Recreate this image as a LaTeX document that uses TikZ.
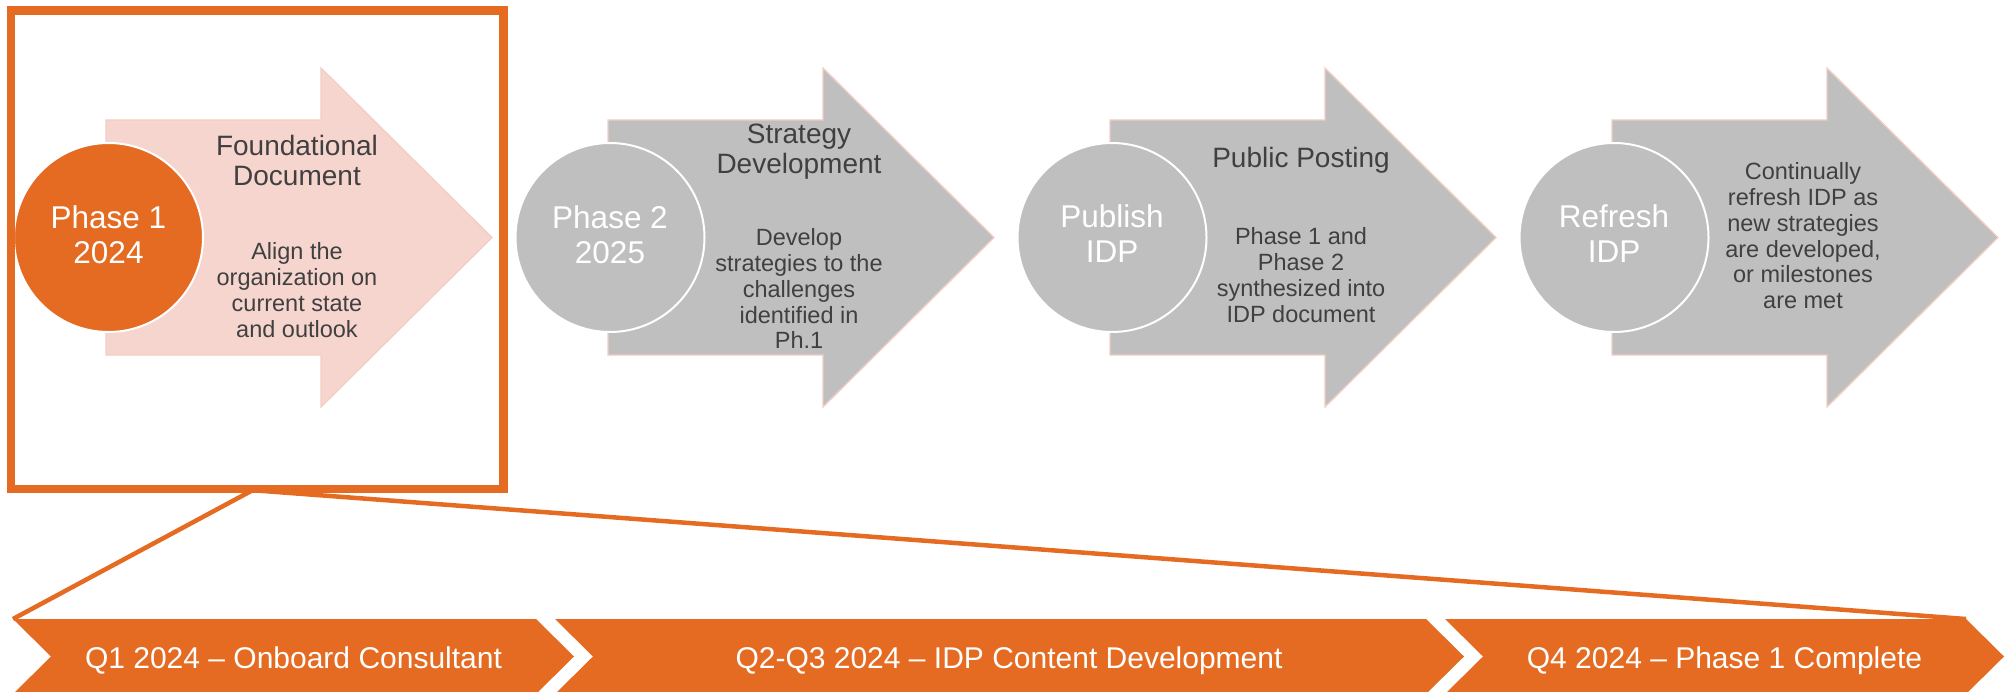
\documentclass[tikz,border=0pt]{standalone}
\usepackage{fontspec}
\setmainfont{Liberation Sans}
\definecolor{orng}{HTML}{E46B21}
\definecolor{pinkfill}{HTML}{F6D5CE}
\definecolor{grayfill}{HTML}{BFBFBF}
\definecolor{arrowedge}{HTML}{F2CEC4}
\definecolor{txtgray}{HTML}{404040}
\newcommand\mlines[1]{\begin{tabular}[t]{@{}c@{}}#1\end{tabular}}
\begin{document}
\begin{tikzpicture}[x=1pt,y=-1pt,
  phasecircle/.style={circle, minimum size=189pt, inner sep=0pt, fill=#1, draw=white, line width=2pt},
  ctext/.style={text=white, font=\fontsize{31.5}{35}\selectfont, anchor=base, inner sep=0pt},
  ttl/.style={text=txtgray, font=\fontsize{28}{29.5}\selectfont, anchor=base, inner sep=0pt},
  bdy/.style={text=txtgray, font=\fontsize{23.5}{25.7}\selectfont, anchor=base, inner sep=0pt},
  bartext/.style={text=white, font=\fontsize{30}{36}\selectfont, anchor=base, inner sep=0pt},
  chev/.style={fill=orng},
  zoomline/.style={draw=orng, line width=4.5pt},
  framebox/.style={draw=orng, line width=8.5pt},
  pics/bigarrow/.style={code={
    \path[fill=#1, draw=arrowedge, line width=1.3pt]
      (0,120) -- (215,120) -- (215,68) -- (386,237.5) -- (215,407) -- (215,355) -- (0,355) -- cycle;}}
]
\useasboundingbox (0,0) rectangle (2009,692);

% phase arrows
\pic at (106,0) {bigarrow=pinkfill};
\pic at (608,0) {bigarrow=grayfill};
\pic at (1110,0) {bigarrow=grayfill};
\pic at (1612,0) {bigarrow=grayfill};

% circles
\node[phasecircle=orng] (c1) at (108.5,237.5) {};
\node[phasecircle=grayfill] (c2) at (610,237.5) {};
\node[phasecircle=grayfill] (c3) at (1112,237.5) {};
\node[phasecircle=grayfill] (c4) at (1614,237.5) {};

\node[ctext] (c1t) at (108.5,229) {\mlines{Phase 1\\2024}};
\node[ctext] (c2t) at (610,229) {\mlines{Phase 2\\2025}};
\node[ctext] (c3t) at (1112,228) {\mlines{Publish\\IDP}};
\node[ctext] (c4t) at (1614,228) {\mlines{Refresh\\IDP}};

% arrow texts
\node[ttl] (a1h) at (297,156) {\mlines{Foundational\\Document}};
\node[bdy] (a1b) at (297,260) {\mlines{Align the\\organization on\\current state\\and outlook}};

\node[ttl] (a2h) at (799,144) {\mlines{Strategy\\Development}};
\node[bdy] (a2b) at (799,246) {\mlines{Develop\\strategies to the\\challenges\\identified in\\Ph.1}};

\node[ttl] (a3h) at (1301,168) {Public Posting};
\node[bdy] (a3b) at (1301,245) {\mlines{Phase 1 and\\Phase 2\\synthesized into\\IDP document}};

\node[bdy] (a4b) at (1803,180) {\mlines{Continually\\refresh IDP as\\new strategies\\are developed,\\or milestones\\are met}};

% frame around phase 1
\node[framebox, minimum width=492.5pt, minimum height=478.5pt, inner sep=0pt] (frame) at (257.25,249.75) {};

% bottom chevrons
\fill[chev] (13,619) coordinate (b1nw) -- (536,619) -- (574,656.5) -- (536,694) -- (13,694) -- (51,656.5) -- cycle;
\fill[chev] (555,619) -- (1426,619) -- (1464,656.5) -- (1426,694) -- (555,694) -- (593,656.5) -- cycle;
\fill[chev] (1445,619) -- (1966,619) coordinate (b3ne) -- (2004,656.5) -- (1966,694) -- (1445,694) -- (1483,656.5) -- cycle;

\node[bartext] (b1t) at (293.5,668) {Q1 2024 -- Onboard Consultant};
\node[bartext] (b2t) at (1009,668) {Q2-Q3 2024 -- IDP Content Development};
\node[bartext] (b3t) at (1724.5,668) {Q4 2024 -- Phase 1 Complete};

% zoom lines
\coordinate (zl) at (253,490);
\coordinate (zr) at (250,490);
\draw[zoomline] (zl) -- (b1nw);
\draw[zoomline] (zr) -- (b3ne);
\end{tikzpicture}
\end{document}
